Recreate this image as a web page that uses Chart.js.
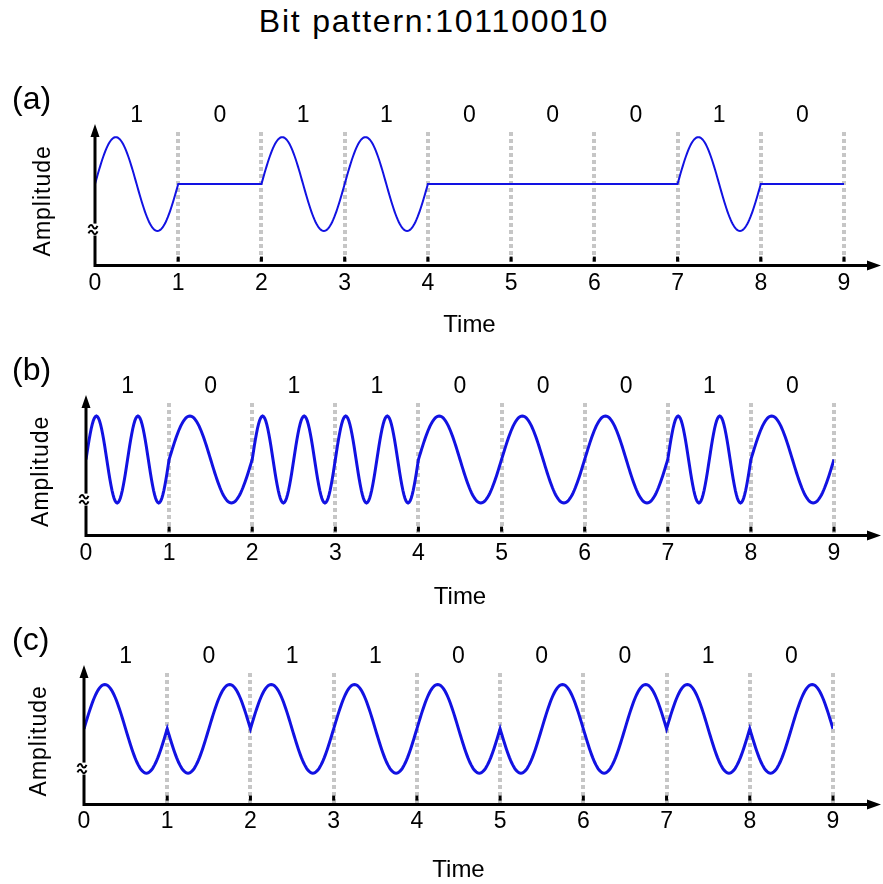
<!DOCTYPE html>
<html>
<head>
<meta charset="utf-8">
<script src="https://cdn.jsdelivr.net/npm/chart.js@4.4.1/dist/chart.umd.min.js"></script>
<style>
  body { margin: 0; background: #fff; width: 883px; height: 884px; position: relative; overflow: hidden; font-family: 'Liberation Sans', Arial, sans-serif; }
  #title { position: absolute; left: 0; top: 3px; width: 868px; text-align: center; font-size: 32px; letter-spacing: 1.8px; color: #000; }
  .panel { position: absolute; left: 0; }
</style>
</head>
<body>
<div id="title">Bit pattern:101100010</div>
<canvas class="panel" id="chart_a" width="883" height="290" style="top:55px"></canvas>
<canvas class="panel" id="chart_b" width="883" height="270" style="top:345px"></canvas>
<canvas class="panel" id="chart_c" width="883" height="273" style="top:615px"></canvas>
<script>
const bitLabels = ['1', '0', '1', '1', '0', '0', '0', '1', '0'];
const timeTicks = [0, 1, 2, 3, 4, 5, 6, 7, 8, 9];

// (a) carrier on / off for each bit
const askAmplitude = [1, 0, 1, 1, 0, 0, 0, 1, 0];
// (b) carrier cycles inside each bit
const fskCycles = [2, 1, 2, 2, 1, 1, 1, 2, 1];
// (c) carrier phase for each bit, in degrees
const pskPhase = [0, 180, 0, 0, 0, 180, 180, 0, 180];

const samplesPerBit = 80;
const waveColor = '#1212e2';
const fontFamily = "'Liberation Sans', Arial, sans-serif";

Chart.defaults.font.family = fontFamily;
Chart.defaults.color = '#000';

const buildWave = (ampOf, cyclesOf, phaseOf) => {
  const pts = [];
  bitLabels.forEach((b, i) => {
    for (let k = 0; k <= samplesPerBit; k++) {
      const t = k / samplesPerBit;
      const y = ampOf(i) * Math.sin(2 * Math.PI * cyclesOf(i) * t + phaseOf(i) * Math.PI / 180);
      pts.push({ x: i + t, y: y });
    }
  });
  return pts;
};

// axes with arrow heads, break mark, bit labels and panel letter
const panelDecor = {
  id: 'panelDecor',
  afterDraw(chart, args, opts) {
    const { ctx, chartArea: area } = chart;
    const x = chart.scales.x;
    const x0 = x.getPixelForValue(timeTicks[0]);
    const yAxis = area.bottom;
    ctx.save();
    ctx.fillStyle = '#000';
    ctx.strokeStyle = '#000';

    timeTicks.slice(1).forEach(v => {
      const px = x.getPixelForValue(v);
      ctx.fillRect(px - 1.5, yAxis - 9, 3, 5);
    });

    ctx.lineWidth = 3;
    ctx.beginPath();
    ctx.moveTo(x0 - 1.5, yAxis);
    ctx.lineTo(opts.arrowRight - 10, yAxis);
    ctx.moveTo(x0, yAxis + 1.5);
    ctx.lineTo(x0, area.top);
    ctx.stroke();

    ctx.beginPath();
    ctx.moveTo(opts.arrowRight, yAxis);
    ctx.lineTo(opts.arrowRight - 14, yAxis - 5);
    ctx.lineTo(opts.arrowRight - 14, yAxis + 5);
    ctx.closePath();
    ctx.moveTo(x0, area.top - 8);
    ctx.lineTo(x0 - 4.5, area.top + 5);
    ctx.lineTo(x0 + 4.5, area.top + 5);
    ctx.closePath();
    ctx.fill();

    // axis break: two small tildes
    const by = yAxis - 36;
    const bx = x0 - 2;
    ctx.fillStyle = '#fff';
    ctx.fillRect(x0 - 3, by - 6, 6, 12);
    ctx.lineWidth = 2;
    [-2.8, 2.8].forEach(dy => {
      const cy = by + dy;
      ctx.beginPath();
      ctx.moveTo(bx - 4.5, cy + 1);
      ctx.bezierCurveTo(bx - 3, cy - 2.8, bx - 1, cy - 2.2, bx, cy);
      ctx.bezierCurveTo(bx + 1, cy + 2.2, bx + 3, cy + 2.8, bx + 4.5, cy - 1);
      ctx.stroke();
    });

    ctx.fillStyle = '#000';
    ctx.font = '23px ' + fontFamily;
    ctx.textAlign = 'center';
    ctx.textBaseline = 'middle';
    bitLabels.forEach((b, i) => {
      ctx.fillText(b, x.getPixelForValue(i + 0.5), area.top - 16);
    });

    ctx.save();
    ctx.letterSpacing = '1px';
    ctx.translate(opts.amplitudeX, (area.top + area.bottom) / 2 + 2);
    ctx.rotate(-Math.PI / 2);
    ctx.fillText('Amplitude', 0, 0);
    ctx.restore();

    ctx.font = '32px ' + fontFamily;
    ctx.textAlign = 'left';
    ctx.fillText(opts.letter, 12, area.top - 32);
    ctx.restore();
  }
};

const makePanel = (id, data, cfg) => {
  new Chart(document.getElementById(id), {
    type: 'line',
    data: {
      datasets: [{
        data: data,
        borderColor: waveColor,
        borderWidth: cfg.lineWidth,
        pointRadius: 0,
        tension: 0
      }]
    },
    options: {
      responsive: false,
      animation: false,
      events: [],
      layout: { padding: cfg.padding },
      scales: {
        x: {
          type: 'linear',
          min: timeTicks[0],
          max: timeTicks[timeTicks.length - 1],
          afterBuildTicks: (scale) => {
            scale.ticks = timeTicks.map(v => ({ value: v }));
          },
          ticks: {
            padding: cfg.tickPadding,
            font: { size: 23 },
            color: '#000',
            maxRotation: 0,
            autoSkip: false
          },
          grid: {
            drawTicks: false,
            lineWidth: 4,
            color: (c) => (c.tick && c.tick.value === 0 ? 'rgba(0,0,0,0)' : '#c6c6c6')
          },
          border: { display: false, dash: [4, 3] },
          title: {
            display: true,
            text: 'Time',
            font: { size: 24 },
            color: '#000',
            padding: { top: cfg.titleGap, bottom: 0 }
          }
        },
        y: {
          display: false,
          min: cfg.yRange[0],
          max: cfg.yRange[1]
        }
      },
      plugins: {
        legend: { display: false },
        tooltip: { enabled: false },
        panelDecor: {
          letter: cfg.letter,
          arrowRight: 881,
          amplitudeX: cfg.amplitudeX
        }
      }
    },
    plugins: [panelDecor]
  });
};

makePanel('chart_a', buildWave(i => askAmplitude[i], () => 1, () => 0), {
  letter: '(a)',
  lineWidth: 2,
  padding: { left: 95, right: 39, top: 77, bottom: 5 },
  tickPadding: 4,
  titleGap: 10,
  yRange: [-1.74, 1.11],
  amplitudeX: 44
});

makePanel('chart_b', buildWave(() => 1, i => fskCycles[i], () => 0), {
  letter: '(b)',
  lineWidth: 3,
  padding: { left: 86, right: 49, top: 58, bottom: 3 },
  tickPadding: 4,
  titleGap: 12,
  yRange: [-1.75, 1.3],
  amplitudeX: 42
});

makePanel('chart_c', buildWave(() => 1, () => 1, i => pskPhase[i]), {
  letter: '(c)',
  lineWidth: 3,
  padding: { left: 84, right: 50, top: 58, bottom: 3 },
  tickPadding: 3,
  titleGap: 18,
  yRange: [-1.71, 1.26],
  amplitudeX: 40
});
</script>
</body>
</html>
